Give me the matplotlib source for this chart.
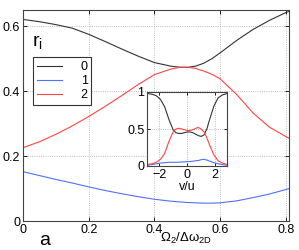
import matplotlib
matplotlib.use('Agg')
import matplotlib.pyplot as plt

plt.rcParams['font.family'] = ['Liberation Sans', 'DejaVu Sans']
plt.rcParams['mathtext.fontset'] = 'custom'
plt.rcParams['mathtext.rm'] = 'Liberation Sans'
plt.rcParams['mathtext.it'] = 'Liberation Sans'

# main panel: populations r_i vs Omega_2 / Delta omega_2D
x = [0, 0.05, 0.1, 0.15, 0.2, 0.25, 0.3, 0.35, 0.4, 0.45, 0.475, 0.5, 0.525, 0.55, 0.575, 0.6, 0.65, 0.7, 0.75, 0.8, 0.81]
r0 = [0.621, 0.614, 0.605, 0.594, 0.575, 0.553, 0.530, 0.508, 0.488, 0.477, 0.474, 0.473, 0.477, 0.486, 0.500, 0.518, 0.556, 0.590, 0.618, 0.642, 0.646]
r1 = [0.152, 0.140, 0.128, 0.117, 0.105, 0.094, 0.084, 0.075, 0.067, 0.061, 0.059, 0.057, 0.056, 0.055, 0.055, 0.056, 0.062, 0.072, 0.083, 0.097, 0.100]
r2 = [0.226, 0.244, 0.267, 0.293, 0.322, 0.353, 0.386, 0.420, 0.451, 0.468, 0.473, 0.474, 0.470, 0.462, 0.452, 0.438, 0.390, 0.333, 0.289, 0.260, 0.255]

# inset: r_i vs v/u
v = [-2.85, -2.5, -2.2, -1.9, -1.6, -1.3, -1.0, -0.8, -0.6, -0.4, -0.2, 0, 0.2, 0.4, 0.6, 0.8, 1.0, 1.2, 1.4, 1.6, 1.9, 2.2, 2.5, 2.85]
s0 = [0.98, 0.97, 0.95, 0.90, 0.80, 0.63, 0.49, 0.45, 0.44, 0.44, 0.45, 0.46, 0.46, 0.45, 0.43, 0.41, 0.40, 0.42, 0.50, 0.63, 0.81, 0.92, 0.96, 0.98]
s1 = [0.01, 0.02, 0.03, 0.04, 0.045, 0.05, 0.05, 0.05, 0.05, 0.055, 0.055, 0.06, 0.06, 0.065, 0.07, 0.075, 0.085, 0.09, 0.08, 0.065, 0.045, 0.03, 0.02, 0.01]
s2 = [0.02, 0.03, 0.05, 0.09, 0.17, 0.33, 0.46, 0.50, 0.51, 0.50, 0.49, 0.48, 0.48, 0.49, 0.51, 0.52, 0.50, 0.46, 0.38, 0.28, 0.15, 0.07, 0.04, 0.02]

labels = ['0', '1', '2']
colors = ['#333333', '#5070ff', '#ff4444']

fig = plt.figure(figsize=(2.99, 2.5), dpi=100)
ax = fig.add_axes([0.077, 0.116, 0.890, 0.844])

for y, c, l in zip([r0, r1, r2], colors, labels):
    ax.plot(x, y, color=c, lw=0.8, label=l)

ax.set_xlim(0, 0.81)
ax.set_ylim(0, 0.65)
ax.set_xticks([0, 0.2, 0.4, 0.6, 0.8])
ax.set_xticklabels(['0', '0.2', '0.4', '0.6', '0.8'])
ax.set_yticks([0, 0.2, 0.4, 0.6])
ax.set_yticklabels(['0', '0.2', '0.4', '0.6'])
ax.tick_params(direction='in', labelsize=9, length=3, width=0.6, top=True, right=True, pad=2)
ax.grid(True, ls=':', color='#aaaaaa', lw=0.6)
for s in ax.spines.values():
    s.set_color('#444444')
    s.set_linewidth(0.8)

leg = ax.legend(loc='upper left', bbox_to_anchor=(0.038, 0.775), fontsize=9,
                fancybox=False, framealpha=1, edgecolor='#333333',
                handlelength=2.0, handletextpad=1.5, labelspacing=0.15,
                borderpad=0.3, borderaxespad=0)
leg.get_frame().set_linewidth(0.8)

ax.text(0.035, 0.83, '$\\mathregular{r_i}$', transform=ax.transAxes, fontsize=14)
fig.text(0.13, 0.02, 'a', fontsize=14)
fig.text(0.623, 0.033, '$\\mathregular{\\Omega_2/\\Delta\\omega_{2D}}$', fontsize=9.5, ha='center')

# inset
ins = fig.add_axes([0.492, 0.336, 0.268, 0.296])
for y, c in zip([s0, s1, s2], colors):
    ins.plot(v, y, color=c, lw=0.8)
ins.set_xlim(-2.85, 2.85)
ins.set_ylim(0, 1)
ins.set_xticks([-2, 0, 2])
ins.set_xticklabels(['\u22122', '0', '2'])
ins.set_yticks([0, 0.5, 1])
ins.set_yticklabels(['0', '0.5', '1'])
ins.tick_params(direction='in', labelsize=9, length=2.5, width=0.6, top=True, right=True, pad=2)
ins.grid(True, ls=':', color='#aaaaaa', lw=0.6)
for s in ins.spines.values():
    s.set_color('#444444')
    s.set_linewidth(0.8)
ins.set_xlabel('v/u', fontsize=9, labelpad=0)

fig.savefig('out.png', dpi=100)
